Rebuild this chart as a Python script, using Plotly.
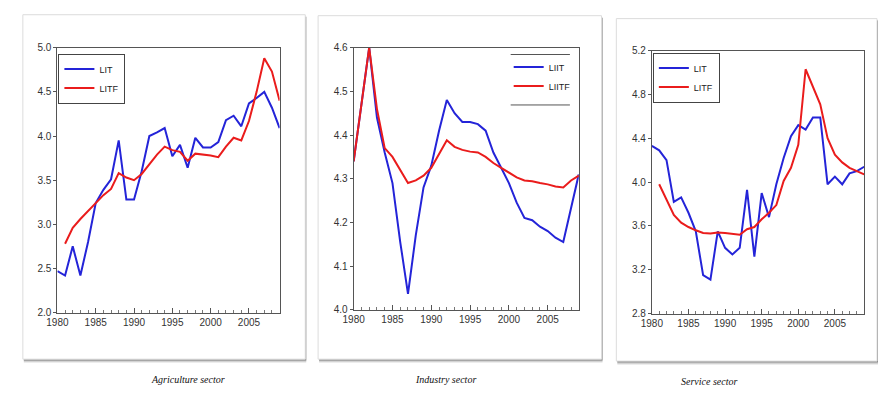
import plotly.graph_objects as go

W, H = 878, 403

years = list(range(1980, 2010))
years_f = list(range(1981, 2010))

# Agriculture sector
agri_lit = [2.47, 2.42, 2.75, 2.42, 2.80, 3.24, 3.39, 3.51, 3.95, 3.28,
            3.28, 3.60, 4.00, 4.04, 4.09, 3.77, 3.90, 3.64, 3.98, 3.87,
            3.87, 3.93, 4.18, 4.23, 4.11, 4.37, 4.43, 4.50, 4.32, 4.09]
agri_litf = [2.78, 2.96, 3.06, 3.15, 3.24, 3.33, 3.40, 3.58, 3.53,
             3.50, 3.57, 3.68, 3.79, 3.88, 3.84, 3.82, 3.72, 3.80, 3.79,
             3.78, 3.76, 3.88, 3.98, 3.95, 4.17, 4.50, 4.88, 4.73, 4.40]

# Industry sector
ind_liit = [4.34, 4.47, 4.60, 4.44, 4.36, 4.29, 4.155, 4.036, 4.17, 4.28,
            4.33, 4.41, 4.48, 4.45, 4.43, 4.43, 4.425, 4.41, 4.36, 4.325,
            4.29, 4.245, 4.21, 4.205, 4.19, 4.18, 4.165, 4.155, 4.23, 4.31]
ind_liitf = [4.34, 4.47, 4.60, 4.46, 4.37, 4.35, 4.32, 4.29, 4.296, 4.307,
             4.325, 4.355, 4.388, 4.373, 4.366, 4.362, 4.36, 4.35, 4.336, 4.325,
             4.314, 4.303, 4.296, 4.294, 4.29, 4.287, 4.282, 4.28, 4.296, 4.307]

# Service sector
serv_lit = [4.33, 4.29, 4.20, 3.82, 3.86, 3.72, 3.55, 3.15, 3.11, 3.55,
            3.40, 3.34, 3.40, 3.93, 3.32, 3.90, 3.68, 3.98, 4.22, 4.42,
            4.52, 4.48, 4.59, 4.59, 3.98, 4.05, 3.98, 4.08, 4.10, 4.14]
serv_litf = [3.98, 3.84, 3.70, 3.63, 3.59, 3.56, 3.535, 3.53, 3.54,
             3.535, 3.53, 3.52, 3.57, 3.59, 3.66, 3.72, 3.79, 4.01, 4.13,
             4.34, 5.03, 4.87, 4.71, 4.40, 4.25, 4.18, 4.13, 4.10, 4.07]

xtick_vals = [1980, 1985, 1990, 1995, 2000, 2005]
xtick_text = ["1980", "1985", "1990", "1995", "2000", "2005"]

captions = ["Agriculture sector", "Industry sector", "Service sector"]

BLUE = "#2424d8"
RED = "#ea1c1c"


def px(x):
    return x / W


def py(y):
    return 1 - y / H


fig = go.Figure()

panels = [
    dict(lit=agri_lit, litf=agri_litf, names=("LIT", "LITF"), leg="legend",
         dom_x=(47, 272), dom_y=(43, 316), yr=(2.0, 5.0), dy=0.5, fmt=".1f"),
    dict(lit=ind_liit, litf=ind_liitf, names=("LIIT", "LIITF"), leg="legend2",
         dom_x=(347, 575), dom_y=(43, 313), yr=(4.0, 4.6), dy=0.1, fmt=".1f"),
    dict(lit=serv_lit, litf=serv_litf, names=("LIT", "LITF"), leg="legend3",
         dom_x=(649, 864), dom_y=(46, 317), yr=(2.8, 5.2), dy=0.4, fmt=".1f"),
]

for i, p in enumerate(panels):
    sfx = "" if i == 0 else str(i + 1)
    xa, ya = "x" + sfx, "y" + sfx
    fig.add_trace(go.Scatter(x=years, y=p["lit"], mode="lines", name=p["names"][0],
                             line=dict(color=BLUE, width=2), xaxis=xa, yaxis=ya,
                             legend=p["leg"]))
    fig.add_trace(go.Scatter(x=years_f if len(p["litf"]) == 29 else years, y=p["litf"],
                             mode="lines", name=p["names"][1],
                             line=dict(color=RED, width=2), xaxis=xa, yaxis=ya,
                             legend=p["leg"]))
    axis_common = dict(showline=True, linecolor="#555", linewidth=1, mirror=True,
                       showgrid=False, zeroline=False,
                       tickfont=dict(family="Liberation Sans", size=10, color="#333"))
    fig.update_layout(**{
        "xaxis" + sfx: dict(domain=[px(p["dom_x"][0]), px(p["dom_x"][1])],
                            range=[1980, 2009], anchor=ya,
                            tickmode="array", tickvals=xtick_vals, ticktext=xtick_text,
                            ticks="inside", ticklen=5, tickcolor="#555",
                            minor=dict(dtick=1, tick0=1980, ticks="inside", ticklen=3,
                                       tickcolor="#777"),
                            **axis_common),
        "yaxis" + sfx: dict(domain=[py(p["dom_y"][1]), py(p["dom_y"][0])],
                            range=list(p["yr"]), anchor=xa,
                            dtick=p["dy"], tick0=p["yr"][0], tickformat=p["fmt"],
                            ticks="outside", ticklen=3, tickcolor="#555",
                            **axis_common),
    })

# cards with shadows
cards = [(12, 9, 298, 364), (311, 10, 598, 364), (613, 13, 877, 366)]
shapes = []
for (x0, y0, x1, y1) in cards:
    for k, op in enumerate([0.12, 0.2, 0.35, 0.5]):
        off = 4 - k
        shapes.append(dict(type="rect", xref="paper", yref="paper", layer="below",
                           x0=px(x0 + 1), x1=px(x1 + 1), y0=py(y1 + off), y1=py(y0 + 2),
                           fillcolor=f"rgba(110,110,110,{op})", line=dict(width=0)))
    shapes.append(dict(type="rect", xref="paper", yref="paper", layer="below",
                       x0=px(x0), x1=px(x1), y0=py(y1), y1=py(y0),
                       fillcolor="white", line=dict(color="#dcdcdc", width=1)))
# industry legend top/bottom rules
for yy in (50, 102):
    shapes.append(dict(type="line", xref="paper", yref="paper",
                       x0=px(506), x1=px(566), y0=py(yy), y1=py(yy),
                       line=dict(color="#555", width=1)))

leg_common = dict(font=dict(family="Liberation Sans", size=9, color="#222"),
                  tracegroupgap=0, itemwidth=30,
                  xanchor="left", yanchor="top")

annotations = []
for cap, cx, cy in zip(captions, [140, 440, 737], [393, 393, 395]):
    annotations.append(dict(text="<i>" + cap + "</i>", xref="paper", yref="paper",
                            x=px(cx), y=py(cy), showarrow=False,
                            font=dict(family="Liberation Serif", size=10, color="#111")))

fig.update_layout(
    width=W, height=H, margin=dict(l=0, r=0, t=0, b=0),
    paper_bgcolor="white", plot_bgcolor="white",
    shapes=shapes, annotations=annotations,
    legend=dict(x=px(48), y=py(49), bordercolor="#444", borderwidth=1,
                bgcolor="white", **leg_common),
    legend2=dict(x=px(504), y=py(48), borderwidth=0, bgcolor="rgba(0,0,0,0)",
                 **leg_common),
    legend3=dict(x=px(650), y=py(48), bordercolor="#444", borderwidth=1,
                 bgcolor="white", **leg_common),
)

fig.write_html("out.html")
